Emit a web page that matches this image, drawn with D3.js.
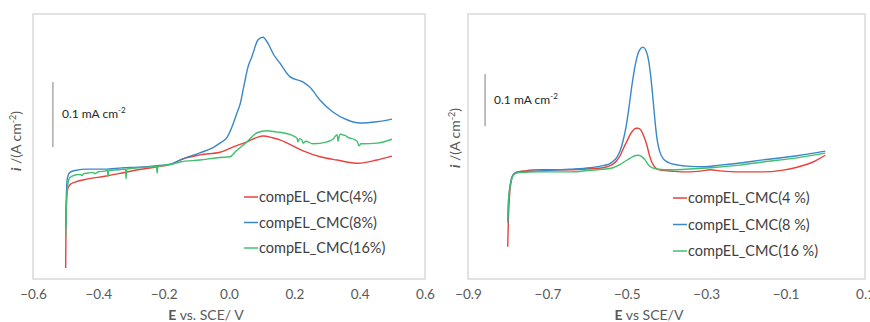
<!DOCTYPE html>
<html>
<head>
<meta charset="utf-8">
<script src="https://cdn.jsdelivr.net/npm/d3@7"></script>
<style>
  html, body { margin: 0; padding: 0; background: #fff; }
  svg { display: block; font-family: Lato, "Open Sans", sans-serif; }
</style>
</head>
<body>
<svg id="chart" width="870" height="322"></svg>
<script>
// Linear sweep voltammograms: potential E (V vs SCE), current density i (mA cm^-2, offset arbitrary)

// ---- Left panel ----
const leftTicks = [-0.6, -0.4, -0.2, 0.0, 0.2, 0.4, 0.6];
const leftNames = ["compEL_CMC(4%)", "compEL_CMC(8%)", "compEL_CMC(16%)"];

const leftCMC4 = [[-0.500,0.017],[-0.499,0.080],[-0.497,0.125],[-0.494,0.138],[-0.487,0.145],[-0.471,0.149],
  [-0.432,0.154],[-0.380,0.158],[-0.328,0.163],[-0.279,0.168],[-0.227,0.172],[-0.171,0.178],[-0.150,0.183],
  [-0.089,0.191],[-0.028,0.195],[0.012,0.203],[0.055,0.211],[0.086,0.218],[0.104,0.220],[0.135,0.217],
  [0.156,0.214],[0.178,0.209],[0.227,0.197],[0.279,0.188],[0.331,0.183],[0.395,0.178],[0.453,0.183],[0.499,0.189]];

const leftCMC8 = [[-0.500,0.080],[-0.498,0.125],[-0.496,0.150],[-0.492,0.160],[-0.487,0.164],[-0.471,0.167],
  [-0.432,0.169],[-0.380,0.169],[-0.328,0.171],[-0.279,0.172],[-0.227,0.174],[-0.171,0.178],[-0.150,0.183],
  [-0.089,0.194],[-0.049,0.202],[-0.028,0.209],[-0.006,0.218],[0.009,0.234],[0.024,0.255],[0.034,0.269],
  [0.046,0.298],[0.058,0.326],[0.070,0.342],[0.089,0.368],[0.104,0.372],[0.119,0.363],[0.137,0.345],
  [0.156,0.332],[0.187,0.311],[0.227,0.303],[0.248,0.295],[0.279,0.275],[0.318,0.257],[0.361,0.245],
  [0.401,0.240],[0.453,0.242],[0.499,0.246]];

const leftCMC16 = [[-0.500,0.063],[-0.498,0.110],[-0.495,0.138],[-0.492,0.150],[-0.487,0.156],[-0.471,0.160],
  [-0.455,0.161],[-0.450,0.159],[-0.445,0.162],[-0.432,0.163],[-0.415,0.164],[-0.410,0.162],[-0.400,0.165],
  [-0.380,0.166],[-0.372,0.167],[-0.370,0.158],[-0.368,0.167],[-0.340,0.168],[-0.317,0.169],[-0.315,0.154],
  [-0.313,0.169],[-0.279,0.171],[-0.250,0.172],[-0.222,0.173],[-0.220,0.163],[-0.218,0.173],[-0.171,0.177],
  [-0.150,0.180],[-0.089,0.183],[-0.028,0.187],[0.003,0.188],[0.020,0.196],[0.055,0.211],[0.086,0.225],
  [0.116,0.228],[0.147,0.226],[0.165,0.225],[0.208,0.217],[0.211,0.211],[0.216,0.216],[0.223,0.214],
  [0.227,0.209],[0.235,0.212],[0.257,0.208],[0.300,0.211],[0.318,0.215],[0.331,0.222],[0.334,0.212],
  [0.337,0.219],[0.342,0.223],[0.346,0.222],[0.355,0.221],[0.364,0.218],[0.386,0.214],[0.394,0.210],
  [0.398,0.205],[0.404,0.208],[0.410,0.208],[0.453,0.209],[0.499,0.215]];

// ---- Right panel ----
const rightTicks = [-0.9, -0.7, -0.5, -0.3, -0.1, 0.1];
const rightNames = ["compEL_CMC(4 %)", "compEL_CMC(8 %)", "compEL_CMC(16 %)"];

const rightCMC4 = [[-0.800,0.062],[-0.798,0.120],[-0.795,0.165],[-0.790,0.192],[-0.784,0.202],[-0.775,0.206],
  [-0.756,0.208],[-0.719,0.210],[-0.643,0.210],[-0.593,0.212],[-0.560,0.214],[-0.545,0.217],[-0.535,0.221],
  [-0.525,0.228],[-0.517,0.237],[-0.508,0.252],[-0.499,0.266],[-0.492,0.277],[-0.484,0.286],[-0.477,0.290],
  [-0.472,0.290],[-0.465,0.287],[-0.458,0.276],[-0.450,0.259],[-0.443,0.238],[-0.436,0.223],[-0.428,0.214],
  [-0.418,0.210],[-0.380,0.207],[-0.348,0.206],[-0.310,0.208],[-0.290,0.210],[-0.265,0.208],[-0.215,0.206],
  [-0.157,0.206],[-0.110,0.209],[-0.071,0.215],[-0.031,0.225],[0.000,0.238]];

const rightCMC8 = [[-0.800,0.108],[-0.798,0.150],[-0.795,0.175],[-0.790,0.195],[-0.784,0.203],[-0.775,0.206],
  [-0.719,0.208],[-0.643,0.211],[-0.593,0.214],[-0.560,0.218],[-0.545,0.221],[-0.535,0.226],[-0.525,0.234],
  [-0.517,0.246],[-0.510,0.264],[-0.502,0.292],[-0.494,0.333],[-0.486,0.378],[-0.477,0.418],[-0.468,0.440],
  [-0.459,0.446],[-0.452,0.440],[-0.445,0.420],[-0.439,0.385],[-0.434,0.346],[-0.429,0.304],[-0.424,0.270],
  [-0.417,0.245],[-0.408,0.231],[-0.395,0.224],[-0.370,0.219],[-0.348,0.217],[-0.308,0.216],[-0.265,0.219],
  [-0.215,0.223],[-0.157,0.229],[-0.071,0.237],[0.000,0.246]];

const rightCMC16 = [[-0.800,0.108],[-0.798,0.150],[-0.795,0.172],[-0.790,0.192],[-0.784,0.201],[-0.775,0.204],
  [-0.719,0.206],[-0.643,0.206],[-0.593,0.209],[-0.560,0.211],[-0.535,0.214],[-0.520,0.219],[-0.505,0.226],
  [-0.490,0.233],[-0.480,0.237],[-0.472,0.238],[-0.463,0.236],[-0.454,0.229],[-0.446,0.220],[-0.437,0.214],
  [-0.420,0.211],[-0.391,0.210],[-0.308,0.213],[-0.215,0.219],[-0.157,0.225],[-0.071,0.233],[0.000,0.242]];

const seriesColors = ["#e8423c", "#3a87c9", "#40bf6e"];

const svg = d3.select("#chart");

function drawPanel(cfg) {
  const x = d3.scaleLinear().domain(cfg.xDomain).range([cfg.left, cfg.right]);
  const y = d3.scaleLinear().domain(cfg.yDomain).range([cfg.bottom, cfg.top]);
  const g = svg.append("g");

  // plot-area frame
  g.append("rect")
    .attr("x", cfg.left).attr("y", cfg.top)
    .attr("width", cfg.right - cfg.left).attr("height", cfg.bottom - cfg.top)
    .attr("fill", "none").attr("stroke", "#d9d9d9").attr("stroke-width", 1.5);

  // x axis labels only
  const ax = g.append("g")
    .attr("transform", `translate(0,${cfg.bottom})`)
    .call(d3.axisBottom(x).tickValues(cfg.ticks).tickFormat(d3.format(".1f")).tickSize(0).tickPadding(10));
  ax.select(".domain").remove();
  ax.selectAll("text").attr("fill", "#595959").style("font-size", "13.5px").style("font-family", "Lato, sans-serif");

  // curves
  const line = d3.line().x(d => x(d[0])).y(d => y(d[1])).curve(d3.curveMonotoneX);
  cfg.series.forEach((s, k) => {
    g.append("path").datum(s)
      .attr("d", line)
      .attr("fill", "none")
      .attr("stroke", seriesColors[k])
      .attr("stroke-width", 1.4)
      .attr("stroke-linejoin", "round");
  });

  // 0.1 mA cm-2 scale bar
  g.append("line")
    .attr("x1", x(cfg.barE)).attr("x2", x(cfg.barE))
    .attr("y1", y(cfg.barBase)).attr("y2", y(cfg.barBase + 0.1))
    .attr("stroke", "#7f7f7f").attr("stroke-width", 1);
  const bt = g.append("text")
    .attr("x", x(cfg.barE) + 9).attr("y", cfg.barTextY)
    .attr("fill", "#262626").style("font-size", "12px");
  bt.append("tspan").text("0.1 mA cm");
  bt.append("tspan").attr("dy", -5).style("font-size", "8px").text("-2");

  // legend
  cfg.names.forEach((n, k) => {
    const ly = cfg.legendY + k * cfg.legendGap;
    g.append("line")
      .attr("x1", cfg.legendX).attr("x2", cfg.legendX + 14)
      .attr("y1", ly).attr("y2", ly)
      .attr("stroke", seriesColors[k]).attr("stroke-width", 1.5);
    g.append("text")
      .attr("x", cfg.legendX + 15).attr("y", ly).attr("dy", "0.35em")
      .attr("fill", "#404040").style("font-size", "14.5px").text(n);
  });

  // x title
  const xt = g.append("text")
    .attr("x", cfg.xTitleX).attr("y", 320)
    .attr("text-anchor", "middle").attr("fill", "#595959").style("font-size", "14px");
  xt.append("tspan").attr("font-weight", "bold").text("E");
  xt.append("tspan").text(cfg.xTitleRest);

  // y title
  const yt = g.append("text")
    .attr("transform", `translate(${cfg.yTitleX},${cfg.yTitleY}) rotate(-90)`)
    .attr("text-anchor", "middle").attr("fill", "#595959").style("font-size", "14px");
  yt.append("tspan").attr("font-weight", "bold").attr("font-style", "italic").text("i");
  yt.append("tspan").text(" /(A cm");
  yt.append("tspan").attr("dy", -5).style("font-size", "9px").text("-2");
  yt.append("tspan").attr("dy", 5).text(")");
}

drawPanel({
  left: 33, right: 425, top: 14, bottom: 279,
  xDomain: [-0.6, 0.6], yDomain: [0, 265 / 650], ticks: leftTicks,
  series: [leftCMC4, leftCMC8, leftCMC16], names: leftNames,
  barE: -0.539, barBase: 0.203, barTextY: 118,
  legendX: 244, legendY: 197, legendGap: 25.5,
  xTitleX: 206, xTitleRest: " vs. SCE/ V",
  yTitleX: 21, yTitleY: 141
});

drawPanel({
  left: 468, right: 865, top: 14, bottom: 279,
  xDomain: [-0.9, 0.1], yDomain: [0, 265 / 520], ticks: rightTicks,
  series: [rightCMC4, rightCMC8, rightCMC16], names: rightNames,
  barE: -0.857, barBase: 0.294, barTextY: 104,
  legendX: 673, legendY: 198, legendGap: 26.5,
  xTitleX: 649, xTitleRest: " vs SCE/V",
  yTitleX: 460, yTitleY: 138
});
</script>
</body>
</html>
